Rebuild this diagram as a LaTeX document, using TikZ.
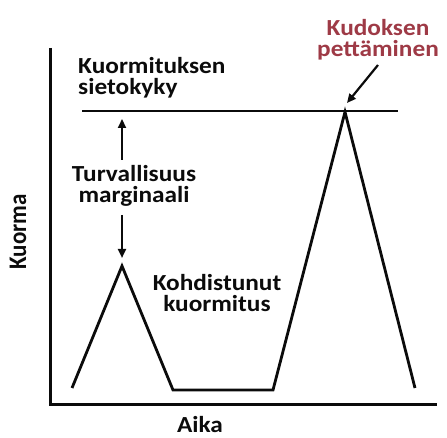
\documentclass[tikz,border=0pt]{standalone}
\usepackage{fontspec}
\setmainfont{Carlito}
\usetikzlibrary{positioning,arrows.meta,calc}
\definecolor{ink}{HTML}{0b0b0b}
\definecolor{fail}{HTML}{9e3a46}
\tikzset{
  ax/.style={draw=ink,line width=3pt},
  crv/.style={draw=ink,line width=2.8pt,line join=miter},
  lab/.style={font=\fontsize{23}{21}\selectfont\bfseries,text=ink,align=center,inner sep=0pt,xscale=1.1,transform shape},
  arr/.style={-{Triangle[length=9pt,width=8pt]},line width=2.2pt,draw=ink},
}
\begin{document}
\begin{tikzpicture}[x=1pt,y=1pt]
\useasboundingbox (0,0) rectangle (447,438);
% axes
\coordinate (o) at (50,33);
\coordinate (ytop) at (50,390);
\coordinate (xend) at (437,33);
\draw[ax] (ytop) -- (o) -- (xend);
\node[lab,rotate=90] (yl) at (18,206) {Kuorma};
\node[lab] (xl) at (200,13) {Aika};
% tolerance line
\coordinate (tolL) at (82,327);
\coordinate (tolR) at (398,327);
\draw[crv] (tolL) -- (tolR);
\node[lab,align=left,anchor=west] (tol) at (78,360) {Kuormituksen\\sietokyky};
% load curve
\coordinate (s) at (72,50);
\coordinate (peak1) at (122,172);
\coordinate (v1) at (173,48);
\coordinate (v2) at (273,48);
\coordinate (peak2) at (345,326);
\coordinate (e) at (415,50);
\draw[crv] (s) -- (peak1) -- (v1) -- (v2) -- (peak2) -- (e);
\node[lab] (load) at (217,145) {Kohdistunut\\kuormitus};
% margin
\node[lab] (marg) at (134,252) {Turvallisuus\\marginaali};
\coordinate (m1) at (122,278);
\coordinate (m2) at (122,223);
\draw[arr] (m1) -- ($(peak1|-tolL)+(0,-8)$);
\draw[arr] (m2) -- ($(peak1)+(0,8)$);
% failure
\node[lab,text=fail] (fail) at (378,398) {Kudoksen\\pettäminen};
\coordinate (f1) at (378,373);
\draw[arr] (f1) -- ($(peak2)+(2,9)$);
\end{tikzpicture}
\end{document}
